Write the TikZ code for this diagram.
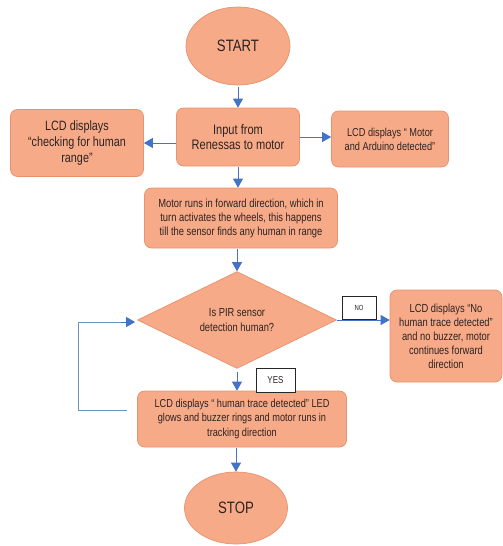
\documentclass[tikz,border=0pt]{standalone}
\usepackage{fontspec}
\setmainfont{Liberation Sans}[FakeStretch=0.8]
\usetikzlibrary{shapes.geometric}
\usetikzlibrary{arrows.meta}

\definecolor{boxfill}{RGB}{247,170,135}
\definecolor{boxline}{RGB}{230,146,108}
\definecolor{arrowblue}{RGB}{68,114,196}
\definecolor{loopblue}{RGB}{110,145,190}
\definecolor{textgray}{RGB}{45,35,35}

\tikzset{
  stepbox/.style={rectangle, rounded corners=7pt, draw=boxline, line width=0.7pt,
    fill=boxfill, align=center, text=textgray, inner sep=0pt},
  terminal/.style={ellipse, draw=boxline, line width=0.7pt, fill=boxfill,
    text=textgray, inner sep=0pt},
  decision/.style={diamond, draw=boxline, line width=0.7pt, fill=boxfill,
    align=center, text=textgray, inner sep=0pt},
  tagbox/.style={rectangle, draw=black!85, line width=1pt, fill=white,
    text=textgray, inner sep=0pt},
  flow/.style={draw=arrowblue, line width=0.9pt, -{Triangle[length=9pt,width=10pt]}},
  loopline/.style={draw=loopblue, line width=0.9pt},
}

\begin{document}
\begin{tikzpicture}[x=1pt,y=-1pt]
    % Fix the page size
    \useasboundingbox (0,0) rectangle (503,546);

    % Draw start and stop
    \node[terminal, minimum width=104pt, minimum height=78pt,
      font=\fontsize{16.5}{18}\selectfont] (start) at (238,46) {START};
    \node[terminal, minimum width=103pt, minimum height=72pt,
      font=\fontsize{16.5}{18}\selectfont] (stop) at (236,508) {STOP};

    % Draw the steps
    \node[stepbox, minimum width=123pt, minimum height=58pt,
      font=\fontsize{13.8}{15}\selectfont] (input) at (238,137)
      {Input from\\Renessas to motor};
    \node[stepbox, minimum width=133pt, minimum height=67pt,
      font=\fontsize{13.5}{16}\selectfont] (checking) at (77,143)
      {LCD displays\\“checking for human\\range”};
    \node[stepbox, minimum width=117pt, minimum height=56pt,
      font=\fontsize{11.5}{14}\selectfont] (arduino) at (390,139)
      {LCD displays “ Motor\\and Arduino detected”};
    \node[stepbox, minimum width=193pt, minimum height=60pt,
      font=\fontsize{11.7}{14}\selectfont] (motor) at (241,218)
      {Motor runs in forward direction, which in\\turn activates the wheels, this happens\\till the sensor finds any human in range};

    % Draw the decision
    \node[decision, minimum width=199pt, minimum height=93pt,
      font=\fontsize{11.7}{14.3}\selectfont] (pir) at (237,320)
      {Is PIR sensor\\detection human?};

    % Draw the two outcomes
    \node[stepbox, minimum width=112pt, minimum height=92pt,
      font=\fontsize{11.7}{14}\selectfont] (notrace) at (446,336)
      {LCD displays “No\\human trace detected”\\and no buzzer, motor\\continues forward\\direction};
    \node[stepbox, minimum width=209pt, minimum height=56pt,
      font=\fontsize{11.5}{14.3}\selectfont] (detected) at (242,419)
      {LCD displays “ human trace detected” LED\\glows and buzzer rings and motor runs in\\tracking direction};

    % Draw answer tags
    \node[tagbox, minimum width=34pt, minimum height=23pt,
      font=\fontsize{7.4}{8}\selectfont] (notag) at (359,307.5) {NO};
    \node[tagbox, minimum width=39pt, minimum height=24pt,
      font=\fontsize{10}{11}\selectfont] (yestag) at (275.5,380) {YES};

    % Draw arrows
    \draw[flow, shorten <=2pt] (start.south) -- (input.north);
    \draw[flow] (input.west |- checking.east) -- (checking.east);
    \draw[flow] (input.east) -- (input.east -| arduino.west);
    \draw[flow, shorten <=1pt] (input.south) -- (input.south |- motor.north);
    \draw[flow, shorten <=1pt] (pir.north |- motor.south) -- (pir.north);
    \draw[flow] (pir.east) -- (pir.east -| notrace.west);
    \draw[flow, shorten <=3pt] (pir.south) -- (pir.south |- detected.north);
    \draw[flow, shorten <=1pt] (stop.north |- detected.south) -- (stop.north);

    % Draw the loop back
    \draw[loopline] ([shift={(-10pt,9pt)}]detected.west) -| ([shift={(-59pt,-2pt)}]pir.west)
      -- ([shift={(-14pt,-2pt)}]pir.west);
    \draw[flow] ([shift={(-16pt,-2pt)}]pir.west) -- ([shift={(-2pt,-2pt)}]pir.west);

\end{tikzpicture}
\end{document}
